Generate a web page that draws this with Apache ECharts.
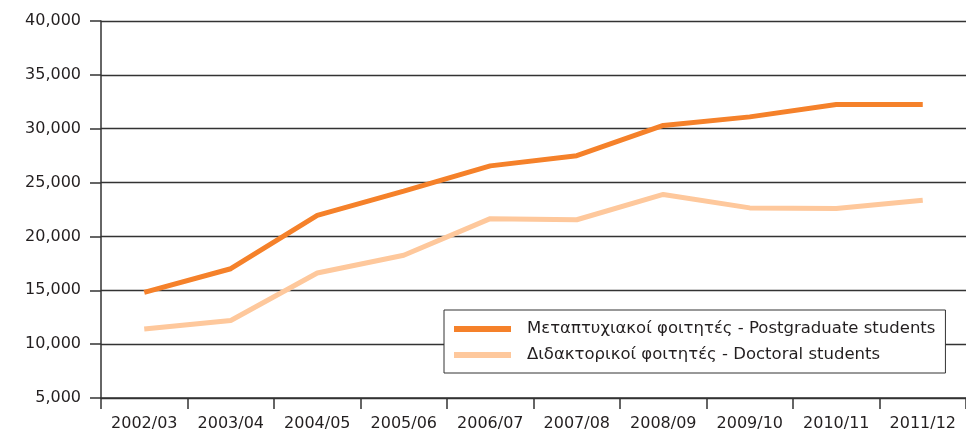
<!DOCTYPE html>
<html>
<head>
<meta charset="utf-8">
<script src="https://cdn.jsdelivr.net/npm/echarts@6/dist/echarts.min.js"></script>
<style>
  html, body { margin: 0; padding: 0; background: #fff; }
  #chart { width: 966px; height: 432px; }
</style>
</head>
<body>
<div id="chart"></div>
<script>
// 学年
const years = ['2002/03', '2003/04', '2004/05', '2005/06', '2006/07',
  '2007/08', '2008/09', '2009/10', '2010/11', '2011/12'];

// 研究生
const postgraduate = [14800, 17000, 21950, 24200, 26550, 27500, 30300, 31100, 32250, 32250];

// 博士生
const doctoral = [11400, 12200, 16600, 18250, 21650, 21550, 23900, 22650, 22600, 23350];

const seriesNames = [
  'Μεταπτυχιακοί φοιτητές - Postgraduate students',
  'Διδακτορικοί φοιτητές - Doctoral students'
];

const FONT = 'DejaVu Sans';
const TEXT_COLOR = '#231f20';
const LINE_COLOR = '#333333';

const chart = echarts.init(document.getElementById('chart'), null, { renderer: 'canvas' });

chart.setOption({
  animation: false,
  textStyle: { fontFamily: FONT },
  grid: { left: 101, top: 21, width: 869, height: 378, containLabel: false },
  legend: {
    orient: 'vertical',
    left: 444,
    top: 310,
    padding: [10, 10, 9, 10],
    itemGap: 8,
    itemWidth: 57,
    itemHeight: 6,
    icon: 'rect',
    backgroundColor: '#fff',
    borderColor: LINE_COLOR,
    borderWidth: 1,
    textStyle: {
      fontFamily: FONT,
      fontSize: 16.5,
      lineHeight: 18,
      color: TEXT_COLOR,
      padding: [0, 0, 0, 11]
    },
    data: seriesNames
  },
  xAxis: {
    type: 'category',
    data: years,
    boundaryGap: true,
    axisLine: { lineStyle: { color: LINE_COLOR, width: 1.5 } },
    axisTick: { show: true, length: 11, lineStyle: { color: LINE_COLOR, width: 1.5 } },
    axisLabel: { margin: 18, fontSize: 16, fontFamily: FONT, color: TEXT_COLOR, interval: 0 }
  },
  yAxis: {
    type: 'value',
    min: 5000,
    max: 40000,
    interval: 5000,
    axisLine: { show: true, lineStyle: { color: LINE_COLOR, width: 1.5 } },
    axisTick: { show: true, length: 11, lineStyle: { color: LINE_COLOR, width: 1.5 } },
    axisLabel: {
      margin: 20,
      fontSize: 16,
      fontFamily: FONT,
      color: TEXT_COLOR,
      formatter: v => v.toLocaleString('en-US')
    },
    splitLine: { show: true, lineStyle: { color: LINE_COLOR, width: 1.3 } }
  },
  series: [
    {
      name: seriesNames[0],
      type: 'line',
      data: postgraduate,
      showSymbol: false,
      color: '#f5812a',
      lineStyle: { width: 5, color: '#f5812a' },
      z: 3
    },
    {
      name: seriesNames[1],
      type: 'line',
      data: doctoral,
      showSymbol: false,
      color: '#fec89c',
      lineStyle: { width: 5, color: '#fec89c' },
      z: 2
    }
  ]
});
</script>
</body>
</html>
